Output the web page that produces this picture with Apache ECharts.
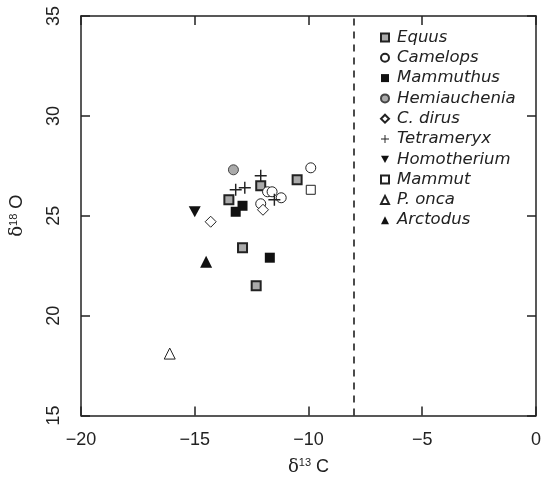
<!DOCTYPE html>
<html>
<head>
<meta charset="utf-8">
<script src="https://cdn.jsdelivr.net/npm/echarts@6/dist/echarts.min.js"></script>
<style>
  html, body { margin: 0; padding: 0; background: #fff; }
  #chart { width: 544px; height: 481px; }
</style>
</head>
<body>
<div id="chart"></div>
<script>
// isotope values: [d13C, d18O]
const equus = [[-12.1, 26.5], [-13.5, 25.8], [-10.5, 26.8], [-12.9, 23.4], [-12.3, 21.5]]
const camelops = [[-11.8, 26.2], [-11.6, 26.2], [-11.2, 25.9], [-9.9, 27.4], [-12.1, 25.6]]
const mammuthus = [[-12.9, 25.5], [-13.2, 25.2], [-11.7, 22.9]]
const hemiauchenia = [[-13.3, 27.3]]
const cDirus = [[-12.0, 25.3], [-14.3, 24.7]]
const tetrameryx = [[-12.1, 27.0], [-13.2, 26.3], [-12.8, 26.4], [-11.5, 25.8]]
const homotherium = [[-15.0, 25.2]]
const mammut = [[-9.9, 26.3]]
const pOnca = [[-16.1, 18.1]]
const arctodus = [[-14.5, 22.7]]

const c4Threshold = -8
const xTicks = { min: -20, max: 0, interval: 5 }
const yTicks = { min: 15, max: 35, interval: 5 }

const plus = 'path://M4.4,0H5.6V4.4H10V5.6H5.6V10H4.4V5.6H0V4.4H4.4Z'
const downTri = 'path://M0,0L10,0L5,9Z'
const font = 'Liberation Sans, Arial, Helvetica, sans-serif'

function minus(v) {
  return String(v).replace('-', '\u2212')
}

const chart = echarts.init(document.getElementById('chart'))

function sc(name, data, symbol, size, color, border, bw) {
  return {
    name: name,
    type: 'scatter',
    data: data,
    symbol: symbol,
    symbolSize: size,
    itemStyle: { color: color, borderColor: border, borderWidth: bw, opacity: 1 },
    emphasis: { disabled: true }
  }
}

const series = [
  sc('Equus', equus, 'rect', 9, '#aaa', '#222', 2),
  sc('Camelops', camelops, 'circle', 10, '#fff', '#222', 1),
  sc('Mammuthus', mammuthus, 'rect', 10, '#111', '#111', 0),
  sc('Hemiauchenia', hemiauchenia, 'circle', 10, '#aaa', '#444', 1),
  sc('C. dirus', cDirus, 'diamond', 11, '#fff', '#222', 1),
  sc('Tetrameryx', tetrameryx, plus, 12, '#222', '#222', 0),
  sc('Homotherium', homotherium, downTri, [12, 11], '#111', '#111', 0),
  sc('Mammut', mammut, 'rect', 9, '#fff', '#222', 1),
  sc('P. onca', pOnca, 'triangle', 11, '#fff', '#222', 1),
  sc('Arctodus', arctodus, 'triangle', 12, '#111', '#111', 0)
]

series[0].markLine = {
  silent: true,
  symbol: 'none',
  label: { show: false },
  lineStyle: { color: '#111', type: [7, 6], width: 1.5 },
  data: [{ xAxis: c4Threshold }]
}

const axisLine = { show: true, onZero: false, lineStyle: { color: '#222', width: 1.5 } }
const tick = { show: true, inside: true, length: 9, lineStyle: { color: '#222', width: 1.5 } }

chart.setOption({
  animation: false,
  textStyle: { fontFamily: font },
  grid: { left: 80, right: 8, top: 16, bottom: 64 },
  legend: {
    orient: 'vertical',
    left: 375,
    top: 24,
    itemWidth: 8,
    itemHeight: 8,
    itemGap: 3.3,
    textStyle: { fontFamily: 'DejaVu Sans', fontSize: 16.5, fontStyle: 'italic', color: '#222', padding: [0, 0, 0, 3] },
    data: series.map(s => s.name)
  },
  xAxis: [
    {
      type: 'value', min: xTicks.min, max: xTicks.max, interval: xTicks.interval,
      axisLine: axisLine, axisTick: tick, splitLine: { show: false },
      axisLabel: { fontSize: 18, color: '#222', margin: 16, formatter: minus },
      name: '{d|δ}{s|13}{c| C}',
      nameLocation: 'middle',
      nameGap: 42,
      nameTextStyle: {
        rich: {
          d: { fontSize: 18, color: '#222', fontFamily: 'DejaVu Serif' },
          s: { fontSize: 11, color: '#222', verticalAlign: 'top', padding: [0, 0, 8, 0] },
          c: { fontSize: 18, color: '#222' }
        }
      }
    },
    {
      type: 'value', position: 'top', min: xTicks.min, max: xTicks.max, interval: xTicks.interval,
      axisLine: axisLine, axisTick: tick, axisLabel: { show: false }, splitLine: { show: false }
    }
  ],
  yAxis: [
    {
      type: 'value', position: 'left', min: yTicks.min, max: yTicks.max, interval: yTicks.interval,
      axisLine: axisLine, axisTick: tick, splitLine: { show: false },
      axisLabel: { fontSize: 18, color: '#222', rotate: 90, margin: 18, formatter: minus },
      name: '{d|δ}{s|18}{c| O}',
      nameLocation: 'middle',
      nameGap: 54,
      nameTextStyle: {
        rich: {
          d: { fontSize: 18, color: '#222', fontFamily: 'DejaVu Serif' },
          s: { fontSize: 11, color: '#222', verticalAlign: 'top', padding: [0, 0, 8, 0] },
          c: { fontSize: 18, color: '#222' }
        }
      }
    },
    {
      type: 'value', position: 'right', min: yTicks.min, max: yTicks.max, interval: yTicks.interval,
      axisLine: axisLine, axisTick: tick, axisLabel: { show: false }, splitLine: { show: false }
    }
  ],
  series: series
})
</script>
</body>
</html>
